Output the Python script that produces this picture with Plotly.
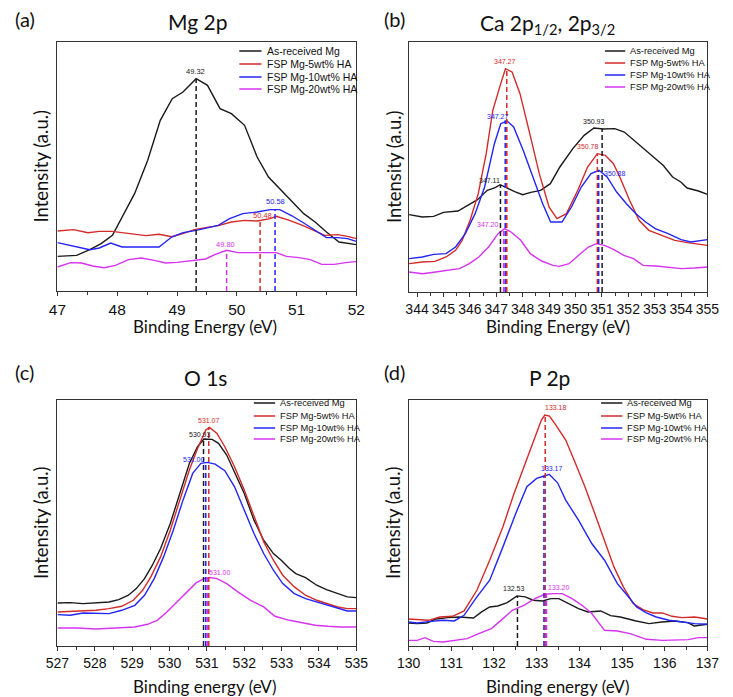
import plotly.graph_objects as go

W, H = 733, 697

series_names = ["As-received Mg", "FSP Mg-5wt% HA", "FSP Mg-10wt% HA", "FSP Mg-20wt% HA"]
series_colors = ["#1a1a1a", "#d42a2a", "#2424f5", "#d633f0"]

# ---------------- (a) Mg 2p ----------------
a_black_x = [47.0, 47.32, 47.54, 47.73, 47.92, 48.10, 48.29, 48.51, 48.72, 48.92, 49.10, 49.32, 49.51, 49.72, 49.91, 50.13, 50.34, 50.53, 50.72, 50.93, 51.12, 51.31, 51.50, 51.71, 52.0]
a_black_y = [104, 107, 124, 142, 167, 227, 292, 392, 512, 577, 597, 637, 617, 547, 532, 497, 402, 342, 307, 267, 232, 207, 177, 147, 139]
a_red_x = [47.0, 47.27, 47.51, 47.70, 47.91, 48.10, 48.29, 48.48, 48.70, 48.91, 49.10, 49.29, 49.48, 49.69, 49.91, 50.13, 50.34, 50.56, 50.66, 50.88, 51.10, 51.28, 51.47, 51.69, 51.85, 52.0]
a_red_y = [180, 184, 175, 179, 179, 175, 172, 166, 170, 163, 172, 184, 190, 196, 207, 212, 210, 217, 224, 212, 197, 182, 167, 169, 164, 157]
a_blue_x = [47.0, 47.19, 47.38, 47.54, 47.70, 47.89, 48.08, 48.29, 48.51, 48.70, 48.91, 49.10, 49.32, 49.48, 49.69, 49.88, 50.10, 50.34, 50.56, 50.72, 50.93, 51.12, 51.31, 51.50, 51.69, 51.85, 52.0]
a_blue_y = [145, 137, 130, 124, 129, 144, 132, 132, 132, 132, 162, 175, 182, 188, 197, 217, 232, 237, 244, 244, 225, 204, 182, 160, 160, 157, 149]
a_mag_x = [47.0, 47.22, 47.40, 47.59, 47.78, 47.97, 48.19, 48.40, 48.62, 48.81, 49.00, 49.18, 49.37, 49.48, 49.64, 49.83, 50.02, 50.23, 50.45, 50.66, 50.83, 51.04, 51.23, 51.42, 51.63, 51.85, 52.0]
a_mag_y = [72, 85, 84, 75, 70, 77, 94, 99, 92, 84, 86, 90, 95, 96, 110, 122, 115, 114, 115, 115, 104, 100, 94, 80, 80, 86, 88]
a_peak_x = [49.32, 50.39, 50.64, 49.83]
a_peak_y = [637, 210, 244, 122]
a_peak_text = ["49.32", "50.48", "50.58", "49.80"]

# ---------------- (b) Ca 2p ----------------
b_black_x = [343.70, 344.20, 344.63, 345.00, 345.55, 345.98, 346.29, 346.66, 346.96, 347.15, 347.45, 347.70, 348.00, 348.31, 348.68, 349.05, 349.41, 349.90, 350.33, 350.70, 351.06, 351.49, 351.85, 352.22, 352.59, 352.95, 353.32, 353.68, 353.99, 354.23, 354.66, 355.0]
b_black_y = [232, 225, 227, 239, 243, 263, 277, 305, 313, 322, 310, 301, 292, 299, 305, 325, 375, 430, 470, 492, 489, 490, 480, 455, 430, 405, 380, 345, 330, 312, 303, 293]
b_red_x = [343.70, 344.20, 344.68, 345.10, 345.46, 345.71, 346.01, 346.32, 346.62, 346.87, 347.17, 347.35, 347.60, 347.90, 348.27, 348.63, 349.00, 349.30, 349.66, 350.09, 350.46, 350.83, 351.13, 351.44, 351.68, 352.05, 352.41, 352.78, 353.27, 353.76, 354.24, 354.61, 355.0]
b_red_y = [85, 90, 92, 105, 125, 155, 215, 295, 415, 545, 625, 670, 660, 595, 475, 355, 255, 220, 235, 305, 375, 415, 410, 385, 345, 275, 215, 185, 170, 155, 148, 145, 140]
b_blue_x = [343.70, 344.20, 344.63, 345.10, 345.46, 345.83, 346.20, 346.56, 346.93, 347.17, 347.41, 347.66, 348.02, 348.39, 348.76, 349.06, 349.49, 349.85, 350.22, 350.59, 350.89, 351.20, 351.56, 351.93, 352.29, 352.66, 353.02, 353.51, 354.00, 354.37, 354.73, 355.0]
b_blue_y = [100, 105, 113, 115, 135, 175, 235, 315, 445, 505, 513, 495, 425, 345, 265, 210, 210, 255, 315, 355, 365, 345, 300, 265, 235, 210, 190, 175, 157, 150, 153, 157]
b_mag_x = [343.70, 344.21, 344.70, 345.12, 345.61, 345.98, 346.34, 346.71, 347.07, 347.32, 347.56, 347.93, 348.29, 348.72, 349.15, 349.39, 349.76, 350.12, 350.49, 350.79, 351.10, 351.46, 351.83, 352.20, 352.56, 353.05, 353.54, 354.02, 354.51, 355.0]
b_mag_y = [60, 55, 60, 65, 70, 85, 105, 135, 175, 190, 180, 155, 115, 93, 80, 77, 85, 110, 135, 145, 140, 127, 110, 100, 80, 78, 75, 70, 72, 75]
b_peak_series = [0, 0, 1, 1, 2, 2, 3]
b_peak_x = [347.16, 351.01, 347.40, 350.83, 347.34, 350.88, 347.28]
b_peak_y = [322, 490, 670, 415, 515, 365, 190]
b_peak_text = ["347.11", "350.93", "347.27", "350.78", "347.27", "350.88", "347.20"]

# ---------------- (c) O 1s ----------------
c_black_x = [527.00, 527.34, 527.69, 528.03, 528.38, 528.64, 528.90, 529.11, 529.33, 529.54, 529.76, 530.02, 530.28, 530.53, 530.75, 530.92, 531.14, 531.31, 531.53, 531.74, 532.00, 532.26, 532.52, 532.78, 532.99, 533.21, 533.38, 533.64, 533.94, 534.20, 534.50, 534.76, 535.0]
c_black_y = [129, 130, 127, 129, 132, 139, 152, 172, 202, 242, 292, 367, 462, 547, 597, 620, 619, 607, 572, 522, 457, 377, 317, 277, 257, 232, 217, 205, 182, 169, 157, 147, 145]
c_red_x = [527.00, 527.34, 527.69, 528.03, 528.38, 528.72, 529.03, 529.28, 529.50, 529.76, 530.02, 530.28, 530.53, 530.75, 530.97, 531.07, 531.27, 531.48, 531.74, 532.00, 532.26, 532.52, 532.78, 533.03, 533.34, 533.64, 533.94, 534.24, 534.50, 534.76, 535.0]
c_red_y = [102, 104, 105, 107, 112, 119, 137, 167, 207, 267, 347, 437, 527, 592, 647, 655, 637, 597, 537, 467, 387, 312, 257, 212, 177, 152, 137, 127, 117, 112, 112]
c_blue_x = [527.00, 527.34, 527.69, 528.03, 528.38, 528.72, 529.07, 529.33, 529.59, 529.84, 530.10, 530.36, 530.62, 530.84, 531.01, 531.22, 531.48, 531.74, 532.00, 532.26, 532.52, 532.78, 533.03, 533.34, 533.64, 533.94, 534.24, 534.50, 534.76, 535.0]
c_blue_y = [94, 92, 99, 97, 97, 107, 122, 152, 202, 267, 347, 437, 517, 547, 550, 545, 525, 477, 407, 337, 277, 227, 187, 157, 142, 132, 122, 112, 105, 105]
c_mag_x = [527.00, 527.52, 528.03, 528.55, 529.07, 529.41, 529.67, 529.93, 530.19, 530.45, 530.71, 530.92, 531.07, 531.27, 531.53, 531.83, 532.17, 532.52, 532.82, 533.21, 533.55, 533.90, 534.24, 534.59, 535.0]
c_mag_y = [54, 54, 51, 53, 57, 65, 77, 102, 132, 162, 189, 202, 205, 202, 187, 162, 137, 117, 89, 77, 69, 62, 59, 57, 57]
c_peak_x = [530.91, 531.05, 530.97, 531.01]
c_peak_y = [620, 655, 550, 205]
c_peak_text = ["530.93", "531.07", "531.00", "531.00"]

# ---------------- (d) P 2p ----------------
d_black_x = [130.00, 130.20, 130.43, 130.65, 130.92, 131.18, 131.52, 131.71, 131.90, 132.09, 132.31, 132.54, 132.73, 132.92, 133.14, 133.33, 133.52, 133.75, 133.98, 134.20, 134.50, 134.73, 134.96, 135.33, 135.63, 135.93, 136.24, 136.54, 136.69, 137.0]
d_black_y = [69, 67, 69, 81, 85, 87, 84, 102, 117, 120, 130, 150, 147, 137, 135, 142, 142, 127, 112, 102, 105, 91, 87, 75, 67, 72, 75, 70, 60, 65]
d_red_x = [130.00, 130.20, 130.47, 130.73, 131.03, 131.30, 131.60, 131.90, 132.21, 132.47, 132.70, 132.92, 133.11, 133.19, 133.30, 133.45, 133.68, 133.91, 134.13, 134.36, 134.58, 134.81, 135.03, 135.26, 135.49, 135.72, 135.94, 136.17, 136.40, 136.70, 137.0]
d_red_y = [81, 79, 77, 87, 89, 105, 167, 257, 357, 457, 537, 617, 677, 692, 689, 662, 617, 547, 477, 397, 317, 237, 177, 127, 109, 99, 99, 89, 85, 87, 81]
d_blue_x = [130.00, 130.20, 130.47, 130.81, 131.07, 131.30, 131.60, 131.90, 132.21, 132.51, 132.77, 133.00, 133.19, 133.30, 133.49, 133.68, 133.98, 134.29, 134.59, 134.89, 135.12, 135.34, 135.57, 135.80, 136.10, 136.40, 136.70, 137.0]
d_blue_y = [72, 69, 73, 77, 75, 92, 147, 197, 297, 397, 477, 502, 510, 514, 489, 437, 377, 307, 257, 187, 152, 117, 99, 87, 77, 72, 67, 65]
d_mag_x = [130.00, 130.20, 130.39, 130.58, 130.81, 131.11, 131.37, 131.64, 131.94, 132.21, 132.43, 132.70, 132.96, 133.19, 133.38, 133.60, 133.83, 134.06, 134.28, 134.59, 134.89, 135.19, 135.57, 135.95, 136.25, 136.55, 136.78, 137.0]
d_mag_y = [17, 17, 25, 14, 12, 17, 22, 37, 52, 82, 107, 122, 142, 155, 157, 157, 142, 122, 99, 47, 45, 37, 20, 17, 17, 19, 25, 25]
d_peak_x = [132.55, 133.20, 133.17, 133.23]
d_peak_y = [150, 692, 510, 157]
d_peak_text = ["132.53", "133.18", "133.17", "133.20"]

# ---------------- helpers ----------------
def px(x):
    return x / W

def py(y):
    return 1 - y / H

TICK_FONT = "Liberation Sans, Arial, sans-serif"
TITLE_FONT = "Lato, Noto Sans, sans-serif"

fig = go.Figure()
annotations = []
shapes = []

panels = [
    dict(ax="", box=(47, 356, 42, 291), xr=[47, 52], yr=[0, 747], dt=1,
         series=[(a_black_x, a_black_y), (a_red_x, a_red_y), (a_blue_x, a_blue_y), (a_mag_x, a_mag_y)],
         peaks=(list(range(4)), a_peak_x, a_peak_y, a_peak_text),
         offs=[(-1, 7), (2, 6), (0, 8), (-1, 6)],
         tickfs=15.5, legfs=10.5, labfs=7.5,
         leg=(235, 258, 262, [51, 64, 77, 89]),
         tag=("(a)", 13, 19), title=("Mg 2p", 192, 21), xt=("Binding Energy (eV)", 200, 326), yt=29),
    dict(ax="2", box=(410, 719, 42, 292), xr=[343.68, 355], yr=[0, 750], dt=1,
         series=[(b_black_x, b_black_y), (b_red_x, b_red_y), (b_blue_x, b_blue_y), (b_mag_x, b_mag_y)],
         peaks=(b_peak_series, b_peak_x, b_peak_y, b_peak_text),
         offs=[(-11, 4), (-8, 7), (-2, 7), (-9, 7), (-7, 4), (16, -3), (-16, 4)],
         tickfs=14, legfs=9.3, labfs=7,
         leg=(613, 634, 637, [51, 63, 75, 87]),
         tag=("(b)", 395, 19), title=("Ca 2p<sub>1/2</sub>, 2p<sub>3/2</sub>", 554, 24), xt=("Binding Energy (eV)", 564, 326), yt=395),
    dict(ax="3", box=(47, 356, 400, 646), xr=[527, 535], yr=[0, 737], dt=1,
         series=[(c_black_x, c_black_y), (c_red_x, c_red_y), (c_blue_x, c_blue_y), (c_mag_x, c_mag_y)],
         peaks=(list(range(4)), c_peak_x, c_peak_y, c_peak_text),
         offs=[(-4, 5), (0, 7), (-12, 3), (13, 5)],
         tickfs=14, legfs=9.3, labfs=7,
         leg=(250, 272, 275, [403, 416, 428, 439]),
         tag=("(c)", 13, 372), title=("O 1s", 200, 377), xt=("Binding energy (eV)", 200, 686), yt=30),
    dict(ax="4", box=(410, 719, 400, 646), xr=[130, 137], yr=[0, 737], dt=1,
         series=[(d_black_x, d_black_y), (d_red_x, d_red_y), (d_blue_x, d_blue_y), (d_mag_x, d_mag_y)],
         peaks=(list(range(4)), d_peak_x, d_peak_y, d_peak_text),
         offs=[(-3, 7), (11, 8), (8, 7), (13, 6)],
         tickfs=14, legfs=9.3, labfs=7,
         leg=(609, 631, 634, [403, 416, 428, 439]),
         tag=("(d)", 395, 372), title=("P 2p", 556, 377), xt=("Binding energy (eV)", 564, 686), yt=394),
]

layout_axes = {}
for p in panels:
    ax = p["ax"]
    xa, ya = "x" + ax, "y" + ax
    x0, x1, y0, y1 = p["box"]
    for i, (sx, sy) in enumerate(p["series"]):
        fig.add_trace(go.Scatter(x=sx, y=sy, mode="lines", name=series_names[i],
                                 line=dict(color=series_colors[i], width=1.4),
                                 xaxis=xa, yaxis=ya, showlegend=False))
    sidx, pxs, pys, ptx = p["peaks"]
    for k in range(len(pxs)):
        c = series_colors[sidx[k]]
        fig.add_trace(go.Scatter(x=[pxs[k], pxs[k]], y=[0, pys[k]], mode="lines",
                                 line=dict(color=c, width=1.5, dash="5px,3px"),
                                 xaxis=xa, yaxis=ya, showlegend=False, hoverinfo="skip"))
        dx, dy = p["offs"][k]
        annotations.append(dict(x=pxs[k], y=pys[k], xref=xa, yref=ya, text=ptx[k],
                                showarrow=False, xanchor="center", yanchor="middle",
                                xshift=dx, yshift=dy,
                                font=dict(family=TICK_FONT, size=p["labfs"], color=c)))
    xkey = "xaxis" + ax
    ykey = "yaxis" + ax
    layout_axes[xkey] = dict(domain=[px(x0), px(x1)], range=p["xr"], anchor=ya,
                             showline=True, mirror=True, linecolor="#333", linewidth=1,
                             ticks="outside", ticklen=4, tickwidth=1, tickcolor="#333",
                             dtick=p["dt"], tick0=0, showgrid=False, zeroline=False,
                             minor=dict(ticks="outside", ticklen=2.5, dtick=0.5, tickcolor="#333", showgrid=False),
                             tickfont=dict(family=TICK_FONT, size=p["tickfs"], color="#111"))
    layout_axes[ykey] = dict(domain=[py(y1), py(y0)], range=p["yr"], anchor=xa,
                             showline=True, mirror=True, linecolor="#333", linewidth=1,
                             showticklabels=False, ticks="", showgrid=False, zeroline=False)
    lx0, lx1, tx, rows = p["leg"]
    for i, ry in enumerate(rows):
        shapes.append(dict(type="line", xref="paper", yref="paper",
                           x0=px(lx0), x1=px(lx1), y0=py(ry), y1=py(ry),
                           line=dict(color=series_colors[i], width=1.5)))
        annotations.append(dict(x=px(tx), y=py(ry), xref="paper", yref="paper",
                                text=series_names[i], showarrow=False,
                                xanchor="left", yanchor="middle",
                                font=dict(family=TICK_FONT, size=p["legfs"], color="#111")))
    t, tx_, ty_ = p["tag"]
    annotations.append(dict(x=px(tx_), y=py(ty_), xref="paper", yref="paper", text=t,
                            showarrow=False, xanchor="center", yanchor="middle",
                            font=dict(family=TITLE_FONT, size=20, color="#111")))
    t, tx_, ty_ = p["title"]
    annotations.append(dict(x=px(tx_), y=py(ty_), xref="paper", yref="paper", text=t,
                            showarrow=False, xanchor="center", yanchor="middle",
                            font=dict(family=TITLE_FONT, size=21, color="#111")))
    t, tx_, ty_ = p["xt"]
    annotations.append(dict(x=px(tx_), y=py(ty_), xref="paper", yref="paper", text=t,
                            showarrow=False, xanchor="center", yanchor="middle",
                            font=dict(family=TITLE_FONT, size=17, color="#111")))
    annotations.append(dict(x=px(p["yt"]), y=py((y0 + y1) / 2), xref="paper", yref="paper",
                            text="Intensity (a.u.)", textangle=-90,
                            showarrow=False, xanchor="center", yanchor="middle",
                            font=dict(family=TITLE_FONT, size=18.5, color="#111")))

fig.update_layout(width=W, height=H, margin=dict(l=0, r=0, t=0, b=0),
                  paper_bgcolor="white", plot_bgcolor="white",
                  showlegend=False, annotations=annotations, shapes=shapes,
                  **layout_axes)

post = ("document.body.style.margin='0px';document.body.style.padding='0px';"
        "document.body.style.overflow='hidden';"
        "var gd=document.getElementById('{plot_id}');"
        "Plotly.relayout(gd,{width:%d,height:%d});" % (W, H))

fig.write_html("out.html", config={"responsive": False, "displayModeBar": False}, post_script=post)
